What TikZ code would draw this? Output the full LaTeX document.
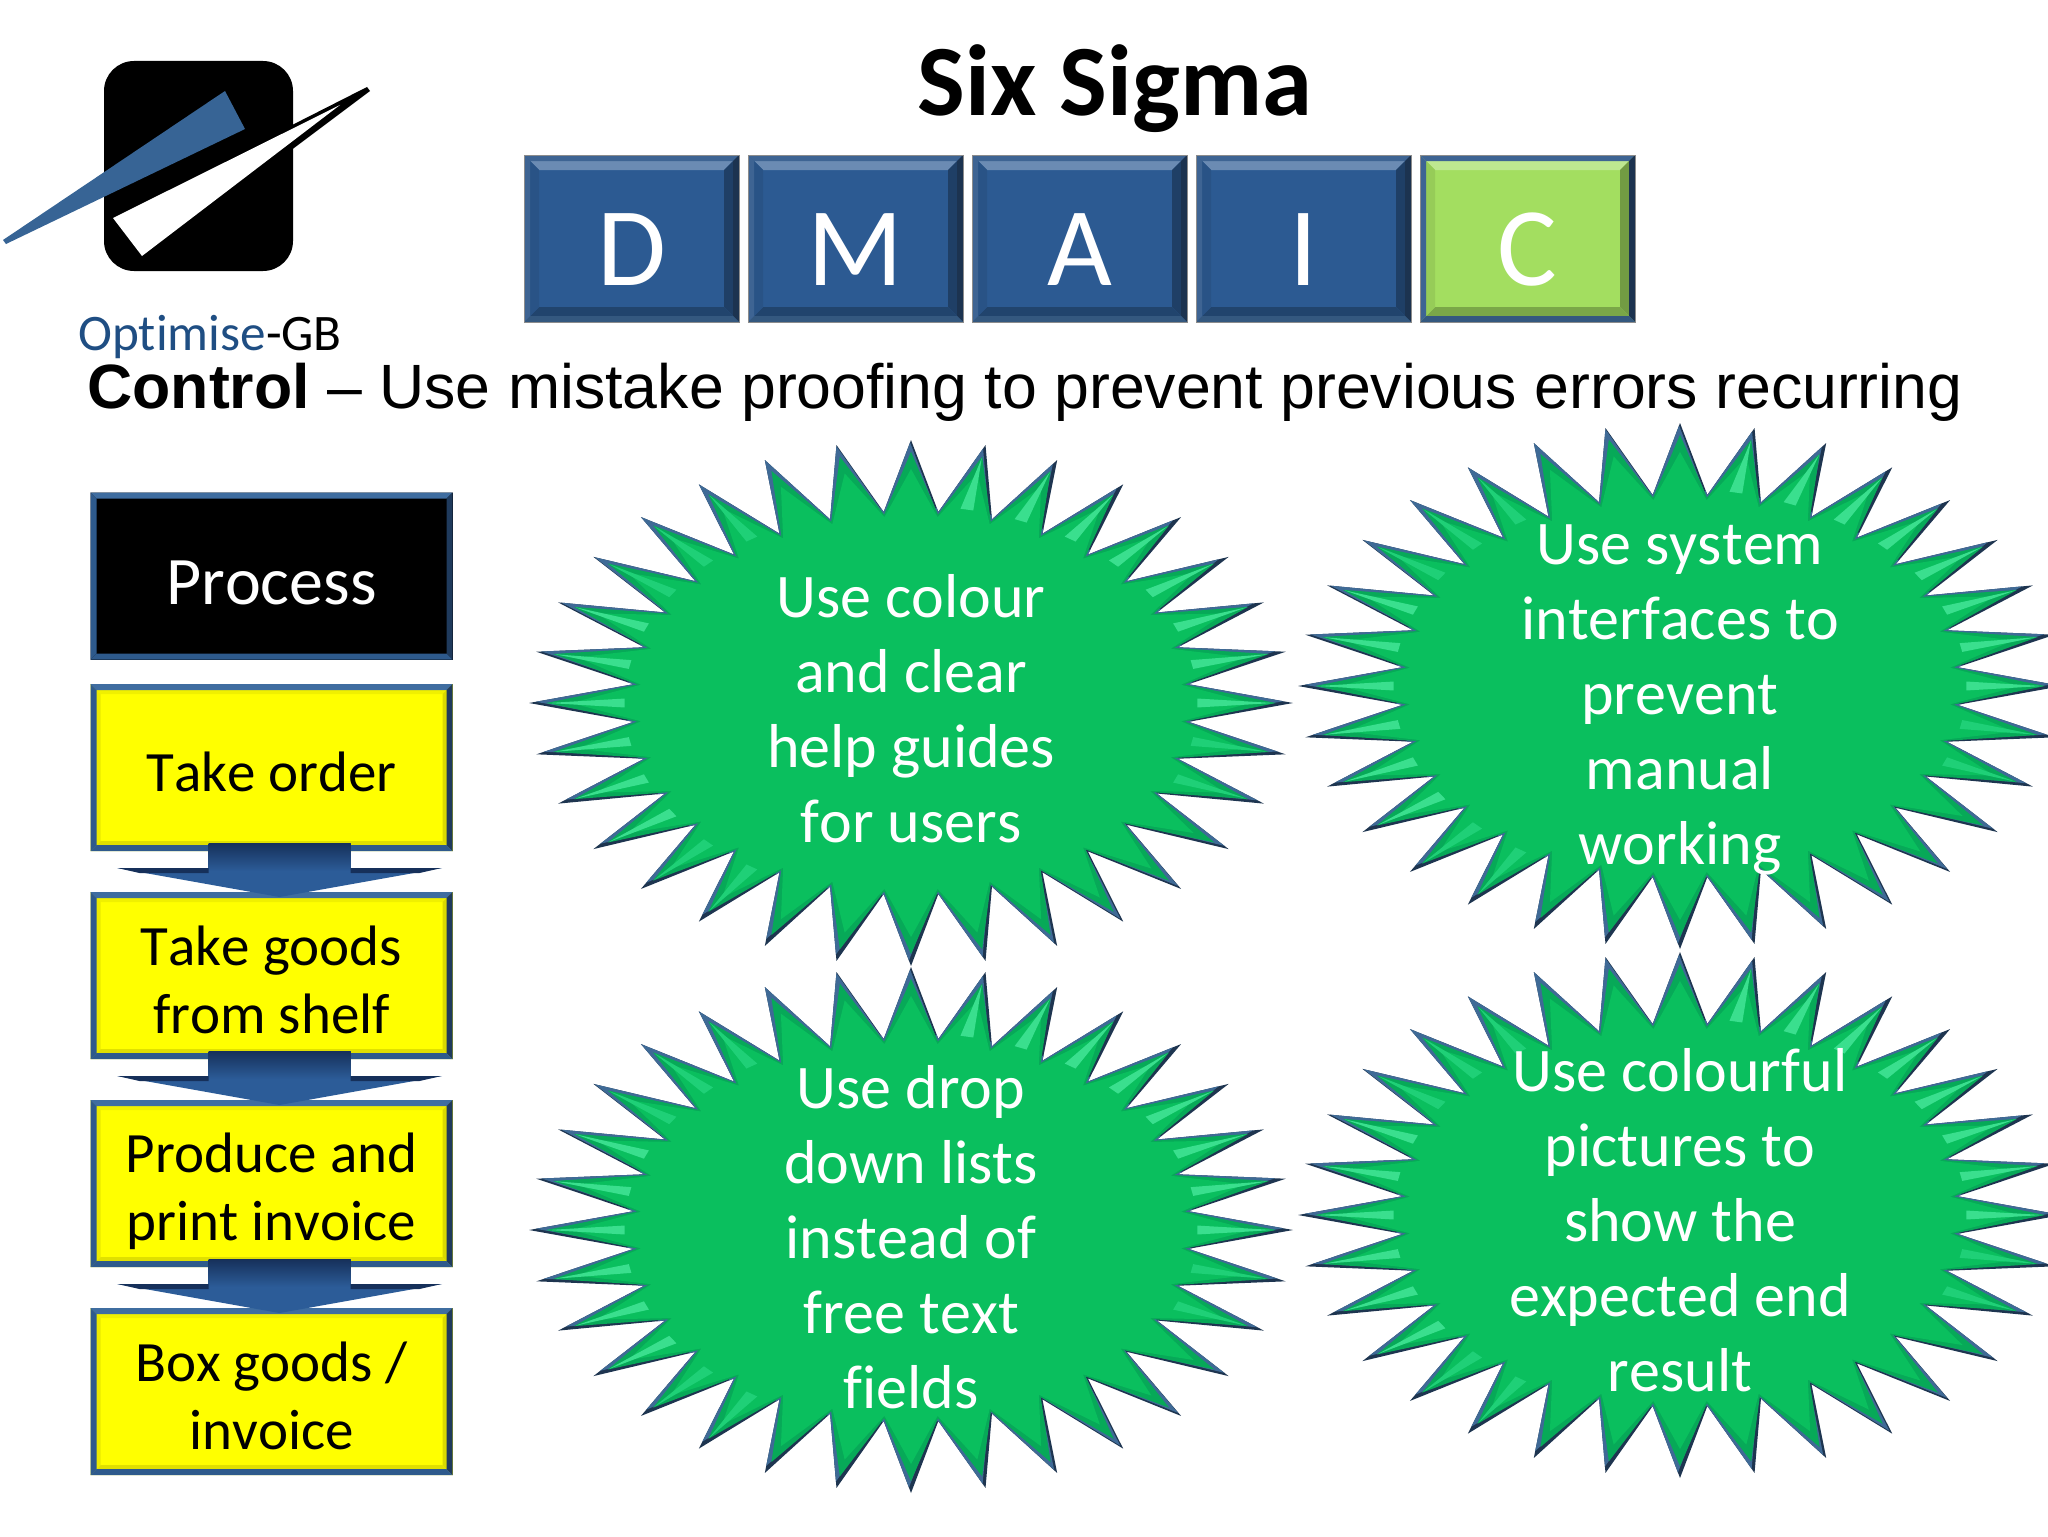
\documentclass[tikz,border=0pt]{standalone}
\usepackage{fontspec}
\setmainfont[Ligatures=NoCommon,Kerning=Off]{Carlito}
\newfontfamily\arialfont{Liberation Sans}
\usetikzlibrary{arrows.meta,calc}

\definecolor{tileblue}{HTML}{2C5A92}
\definecolor{tilegreen}{HTML}{A3DE60}
\definecolor{tilerim}{HTML}{3E6493}
\definecolor{tilerimdark}{HTML}{1C3350}
\definecolor{tilerimlow}{HTML}{34587F}
\definecolor{flowyellow}{HTML}{FFFF00}
\definecolor{flowtop}{HTML}{3F6DA0}
\definecolor{flowside}{HTML}{2E5A8C}
\definecolor{flowdark}{HTML}{1F3A5C}
\definecolor{arrowblue}{HTML}{2C5C98}
\definecolor{arrowdark}{HTML}{16305A}
\definecolor{logoblue}{HTML}{376495}
\definecolor{logotext}{HTML}{1F4E83}
\definecolor{starrim}{HTML}{3F6A96}
\definecolor{starrimdark}{HTML}{1E3550}
\definecolor{starflat}{HTML}{0ABF5E}
\definecolor{starshade}{HTML}{07A958}
\definecolor{starglow}{HTML}{3ADF8E}
\definecolor{starglint}{HTML}{1FD077}

\newcommand{\bevelfaces}[5]{%
  \fill[#2] (path picture bounding box.north west) -- (path picture bounding box.north east)
    -- ([shift={(-#1,-#1)}]path picture bounding box.north east) -- ([shift={(#1,-#1)}]path picture bounding box.north west) -- cycle;
  \fill[#3] (path picture bounding box.north east) -- (path picture bounding box.south east)
    -- ([shift={(-#1,#1)}]path picture bounding box.south east) -- ([shift={(-#1,-#1)}]path picture bounding box.north east) -- cycle;
  \fill[#4] (path picture bounding box.south east) -- (path picture bounding box.south west)
    -- ([shift={(#1,#1)}]path picture bounding box.south west) -- ([shift={(-#1,#1)}]path picture bounding box.south east) -- cycle;
  \fill[#5] (path picture bounding box.south west) -- (path picture bounding box.north west)
    -- ([shift={(#1,-#1)}]path picture bounding box.north west) -- ([shift={(#1,#1)}]path picture bounding box.south west) -- cycle;
}
\newcommand{\spikeoutline}[6]{% centre x, centre y, radius x, radius y, tip, notch
  plot[samples at={0,...,63}, variable=\a]
    ({#1+#3*(mod(\a,2)==0 ? #5 : #6)*sin(\a*5.625)}, {#2-#4*(mod(\a,2)==0 ? #5 : #6)*cos(\a*5.625)}) -- cycle
}
\newcommand{\spikeglow}[3]{% centre x, centre y, tip index
  ({#1+382*.95*sin(#3*11.25)}, {#2-263*.95*cos(#3*11.25)})
  -- ({#1+382*.75*sin(#3*11.25+1.3)}, {#2-263*.75*cos(#3*11.25+1.3)})
  -- ({#1+382*.75*sin(#3*11.25-1.3)}, {#2-263*.75*cos(#3*11.25-1.3)}) -- cycle
}
\newcommand{\spikestar}[2]{%
  \fill[starrimdark] \spikeoutline{#1}{#2}{382}{263}{1}{.73};
  \begin{scope}
    \clip \spikeoutline{#1}{#2}{382}{263}{1}{.73};
    \fill[starrim] \spikeoutline{#1-3}{#2-3}{382}{263}{1}{.73};
  \end{scope}
  \fill[starshade] \spikeoutline{#1}{#2}{382}{263}{.955}{.72};
  \fill[starflat] \spikeoutline{#1}{#2}{382}{263}{.89}{.71};
  \foreach \k in {1,...,8,21,22,...,26}{
    \fill[starglow] \spikeglow{#1}{#2}{\k};
  }
  \foreach \k in {9,10,19,20,27,28,29}{
    \fill[starglint] \spikeglow{#1}{#2}{\k};
  }
}

\begin{document}
\begin{tikzpicture}[x=.5pt, y=-.5pt]
    \tikzset{
      tile/.style={fill=#1, draw=black!45, line width=.4pt, minimum width=107.5pt, minimum height=83.5pt,
        inner sep=0pt, outer sep=0pt, text=white, font=\fontsize{56}{60}\selectfont,
        text height=46.5pt, text depth=0pt,
        path picture={\bevelfaces{7.5pt}{#1!70!white}{#1!70!black}{#1!75!black}{#1!92!black}
          \bevelfaces{3pt}{tilerim}{tilerimdark}{tilerimlow}{tilerim}}},
      flowbox/.style={fill=#1, minimum width=181pt, minimum height=83.5pt, inner sep=0pt, outer sep=0pt,
        path picture={\bevelfaces{5pt}{#1!94!black}{#1!85!black}{#1!88!black}{#1!92!black}
          \bevelfaces{3pt}{flowtop}{flowdark}{flowside}{flowside}}},
      flowtext/.style={align=center, inner sep=0pt, yshift=-2pt, font=\fontsize{28.5}{34}\selectfont},
      flowarrow/.style={draw=arrowblue, line width=71pt, shorten <=-4pt, shorten >=-2.5pt,
        -{Triangle[width=162.5pt, length=14.5pt, line width=0pt]}},
      startext/.style={text=white, align=center, inner sep=0pt, font=\fontsize{31}{37.5}\selectfont}
    }
    \useasboundingbox (0,0) rectangle (2048,1536);

    \fill[black, rounded corners=15pt] (104,61) rectangle (293,271);
    \fill[black] (367,87) -- (370,91) -- (142,262) -- (105,220) -- cycle;
    \fill[white] (113,218) -- (340,105) -- (142,256) -- cycle;
    \fill[logoblue] (3,240) -- (225,91) -- (245,129) -- (6,244) -- cycle;
    \node[anchor=base, inner sep=0pt, font=\fontsize{25.6}{30}\selectfont] (brand) at (210,350)
      {\textcolor{logotext}{Optimise}-GB};

    \node[anchor=base, inner sep=0pt, font=\fontsize{50.5}{60}\selectfont\bfseries] (title) at (1115,115) {Six Sigma};
    \node[tile=tileblue] (define) at (631.5,238.5) {D};
    \node[tile=tileblue] (measure) at (855.5,238.5) {M};
    \node[tile=tileblue] (analyse) at (1079.5,238.5) {A};
    \node[tile=tileblue] (improve) at (1303.5,238.5) {I};
    \node[tile=tilegreen] (control) at (1527.5,238.5) {C};

    \node[anchor=base west, inner sep=0pt, font=\arialfont\fontsize{31.3}{36}\selectfont] (headline) at (87,408)
      {\textbf{Control} – Use mistake proofing to prevent previous errors recurring};

    \node[flowbox=black, label={[flowtext, yshift=-1.3pt, text=white, font=\fontsize{34}{40}\selectfont]center:Process}] (process) at (271.5,576) {};
    \node[flowbox=flowyellow, label={[flowtext]center:Take order}] (takeorder) at (271.5,767.5) {};
    \node[flowbox=flowyellow, label={[flowtext]center:Take goods\\from shelf}] (takegoods) at (271.5,975.5) {};
    \node[flowbox=flowyellow, label={[flowtext, yshift=-2pt]center:Produce and\\print invoice}] (printinvoice) at (271.5,1183.5) {};
    \node[flowbox=flowyellow, label={[flowtext]center:Box goods /\\invoice}] (boxgoods) at (271.5,1391.5) {};
    \foreach \a/\b in {takeorder/takegoods, takegoods/printinvoice, printinvoice/boxgoods}{
      \draw[flowarrow] ([xshift=4pt]\a.south) -- ([xshift=4pt]\b.north);
      \shade[top color=arrowdark, bottom color=arrowblue] ($(\a.south)+(-63,-8)$) rectangle ($(\a.south)+(79,20)$);
      \fill[arrowdark] ($(\a.south)+(-154,17)$) -- ($(\a.south)+(-63,17)$) -- ($(\a.south)+(-63,22)$) -- ($(\a.south)+(-132,22)$) -- cycle;
      \fill[arrowdark] ($(\a.south)+(170,17)$) -- ($(\a.south)+(79,17)$) -- ($(\a.south)+(79,22)$) -- ($(\a.south)+(148,22)$) -- cycle;
    }

    \spikestar{911}{703}
    \spikestar{1680}{686}
    \spikestar{911}{1230}
    \spikestar{1680}{1215}
    \node[startext] (colourhelp) at (911,709) {Use colour\\and clear\\help guides\\for users};
    \node[startext] (interfaces) at (1680,700) {Use system\\interfaces to\\prevent\\manual\\working};
    \node[startext] (droplists) at (911,1237) {Use drop\\down lists\\instead of\\free text\\fields};
    \node[startext] (pictures) at (1680,1220) {Use colourful\\pictures to\\show the\\expected end\\result};
\end{tikzpicture}
\end{document}
